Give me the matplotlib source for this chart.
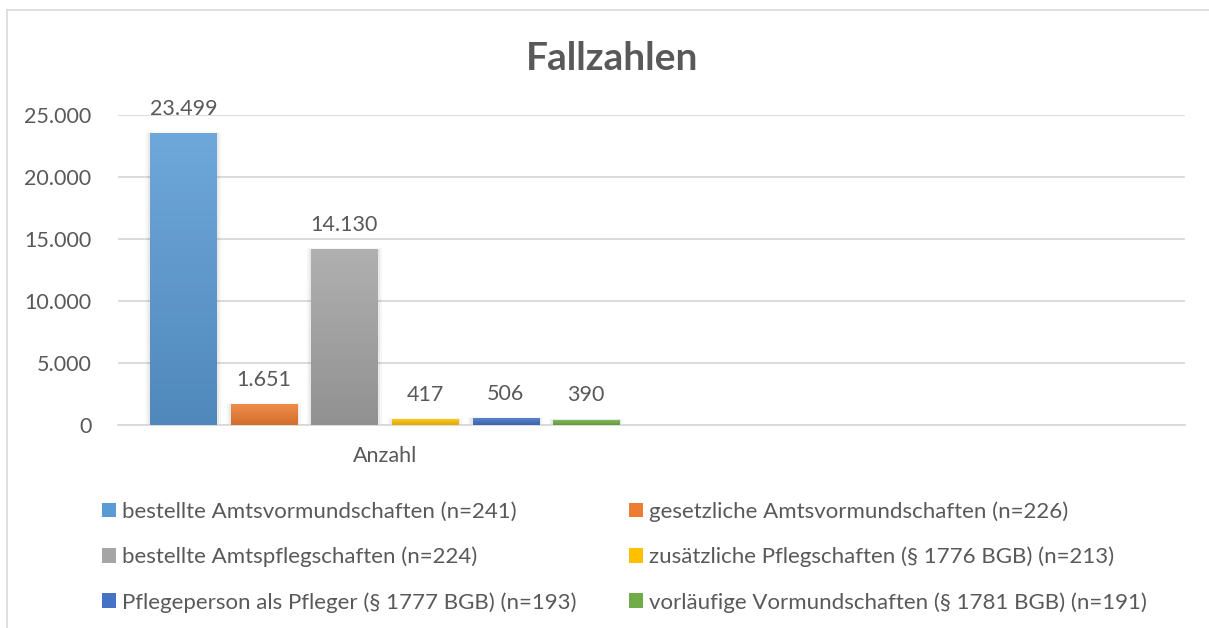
import numpy as np
import matplotlib.pyplot as plt
from matplotlib.colors import to_rgb, LinearSegmentedColormap
from matplotlib.lines import Line2D
from matplotlib.patches import Patch, Rectangle

plt.rcParams['font.family'] = ['Lato', 'DejaVu Sans']

# data
categories = ["Anzahl", ""]
series = [
    "bestellte Amtsvormundschaften (n=241)",
    "gesetzliche Amtsvormundschaften (n=226)",
    "bestellte Amtspflegschaften (n=224)",
    "zusätzliche Pflegschaften (§ 1776 BGB) (n=213)",
    "Pflegeperson als Pfleger (§ 1777 BGB) (n=193)",
    "vorläufige Vormundschaften (§ 1781 BGB) (n=191)",
]
values = [23499, 1651, 14130, 417, 506, 390]
colors = ["#5B9BD5", "#ED7D31", "#A5A5A5", "#FFC000", "#4472C4", "#70AD47"]
yticks = [0, 5000, 10000, 15000, 20000, 25000]

tc = "#595959"
grid_c = "#D9D9D9"


def fmt(v):
    return f"{v:,.0f}".replace(",", ".")


def shade(c, f):
    r = np.array(to_rgb(c))
    if f > 0:
        return tuple(r + (1 - r) * f)
    return tuple(r * (1 + f))


fig = plt.figure(figsize=(12.09, 6.28), dpi=100)
ax = fig.add_axes([118 / 1209, 1 - 425 / 628, (1185 - 118) / 1209, (425 - 115) / 628])

n = len(values)
width = 0.124
step = 0.151
for i, (v, c) in enumerate(zip(values, colors)):
    x = (i - (n - 1) / 2) * step
    # soft shadow
    for k, a in [(0.008, 0.035), (0.004, 0.05)]:
        ax.add_patch(Rectangle((x - width / 2 - k, 0), width + 2 * k, v + 15000 * k,
                               color="#000000", alpha=a, lw=0, zorder=2))
    ax.bar(x, v, width, color=c, zorder=3)
    cmap = LinearSegmentedColormap.from_list(f"g{i}", [shade(c, -0.12), shade(c, 0.12)])
    grad = np.linspace(0, 1, 64).reshape(-1, 1)
    ax.imshow(grad, extent=(x - width / 2, x + width / 2, 0, v), origin="lower",
              cmap=cmap, aspect="auto", zorder=3.5)
    ax.annotate(fmt(v), (x, v), xytext=(0, 18), textcoords="offset points",
                ha="center", va="center", fontsize=15.5, color=tc)

ax.set_xlim(-0.5, 1.5)
ax.set_ylim(0, 25000)
ax.set_xticks(range(len(categories)))
ax.set_xticklabels(categories)
ax.set_yticks(yticks)
ax.set_yticklabels([fmt(t) for t in yticks])
ax.tick_params(length=0, colors=tc, labelsize=15.5)
ax.tick_params(axis="y", pad=19)
ax.tick_params(axis="x", pad=15)
ax.grid(axis="y", color=grid_c, lw=1.3, zorder=0)
ax.set_axisbelow(True)
for k, sp in ax.spines.items():
    sp.set_visible(k == "bottom")
ax.spines["bottom"].set_color(grid_c)
ax.spines["bottom"].set_linewidth(1.3)

fig.text(612 / 1209, 1 - 58 / 628, "Fallzahlen", fontsize=28, fontweight="bold",
         color=tc, ha="center", va="center")

# chart border
fig.add_artist(Line2D([7 / 1209, 1], [1 - 10 / 628] * 2, color=grid_c, lw=1.2))
fig.add_artist(Line2D([7 / 1209] * 2, [0, 1 - 10 / 628], color=grid_c, lw=1.2))

handles = [Patch(facecolor=c, edgecolor="none") for c in colors]
order = [0, 2, 4, 1, 3, 5]
fig.legend([handles[i] for i in order], [series[i] for i in order],
           loc="upper left", bbox_to_anchor=(102 / 1209, 1 - 501 / 628), ncol=2,
           frameon=False, fontsize=16, labelcolor=tc, handlelength=0.63,
           handleheight=0.63, handletextpad=0.28, labelspacing=1.12,
           columnspacing=2.35, borderpad=0, borderaxespad=0)

fig.savefig("out.png", dpi=100, facecolor="white")
